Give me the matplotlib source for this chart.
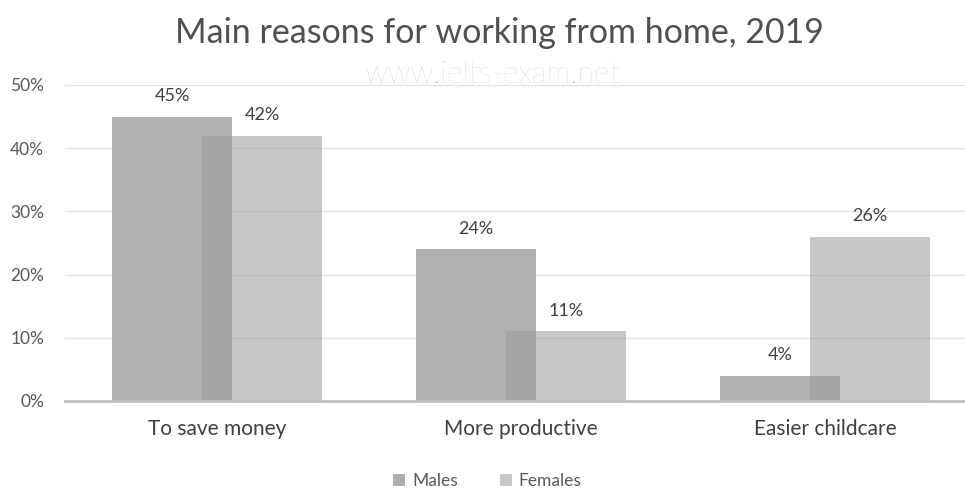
import numpy as np
import matplotlib
matplotlib.use("Agg")
import matplotlib.pyplot as plt
from matplotlib.ticker import PercentFormatter

categories = ["To save money", "More productive", "Easier childcare"]
males = [45, 24, 4]
females = [42, 11, 26]

plt.rcParams['font.family'] = ['Lato', 'DejaVu Sans']

fig = plt.figure(figsize=(9.65, 4.91), dpi=100)
ax = fig.add_axes([0.0674, 0.1833, 0.9326, 0.6436])

x = np.arange(len(categories))
w = 0.395
off = 0.148
ax.bar(x - off, males, w, color="#b0b0b0", label="Males", zorder=2)
ax.bar(x + off, females, w, color="#9e9e9e", alpha=0.57, label="Females", zorder=3)

for xi, v in zip(x - off, males):
    ax.text(xi, v + 2.0, f"{v}%", ha="center", va="bottom", fontsize=13, color="#404040")
for xi, v in zip(x + off, females):
    ax.text(xi, v + 2.0, f"{v}%", ha="center", va="bottom", fontsize=13, color="#404040")

ax.set_ylim(0, 50)
ax.set_xlim(-0.5, 2.46)
ax.set_yticks(np.arange(0, 51, 10))
ax.yaxis.set_major_formatter(PercentFormatter(decimals=0))
ax.set_xticks(x)
ax.set_xticklabels(categories)
ax.tick_params(axis='y', length=0, pad=15, labelsize=12.5, labelcolor="#595959")
ax.tick_params(axis='x', length=0, pad=13, labelsize=15, labelcolor="#404040")
ax.grid(axis='y', color="#e3e3e3", linewidth=1, zorder=0)
for s in ["top", "right", "left"]:
    ax.spines[s].set_visible(False)
ax.spines["bottom"].set_color("#bfbfbf")
ax.spines["bottom"].set_linewidth(2)
ax.spines["bottom"].set_zorder(4)

fig.text(0.518, 0.933, "Main reasons for working from home, 2019", ha="center", va="center",
         fontsize=24.5, color="#505050")
fig.text(0.510, 0.848, "www.ielts-exam.net", ha="center", va="center",
         fontsize=22, color="#c8c8c8", fontweight="light")

fig.legend(loc="center", bbox_to_anchor=(0.505, 0.02), ncol=2, frameon=False,
           fontsize=12.5, labelcolor="#595959", handlelength=0.7, handleheight=0.7,
           columnspacing=2.4, handletextpad=0.4)

fig.savefig("out.png", dpi=100)
